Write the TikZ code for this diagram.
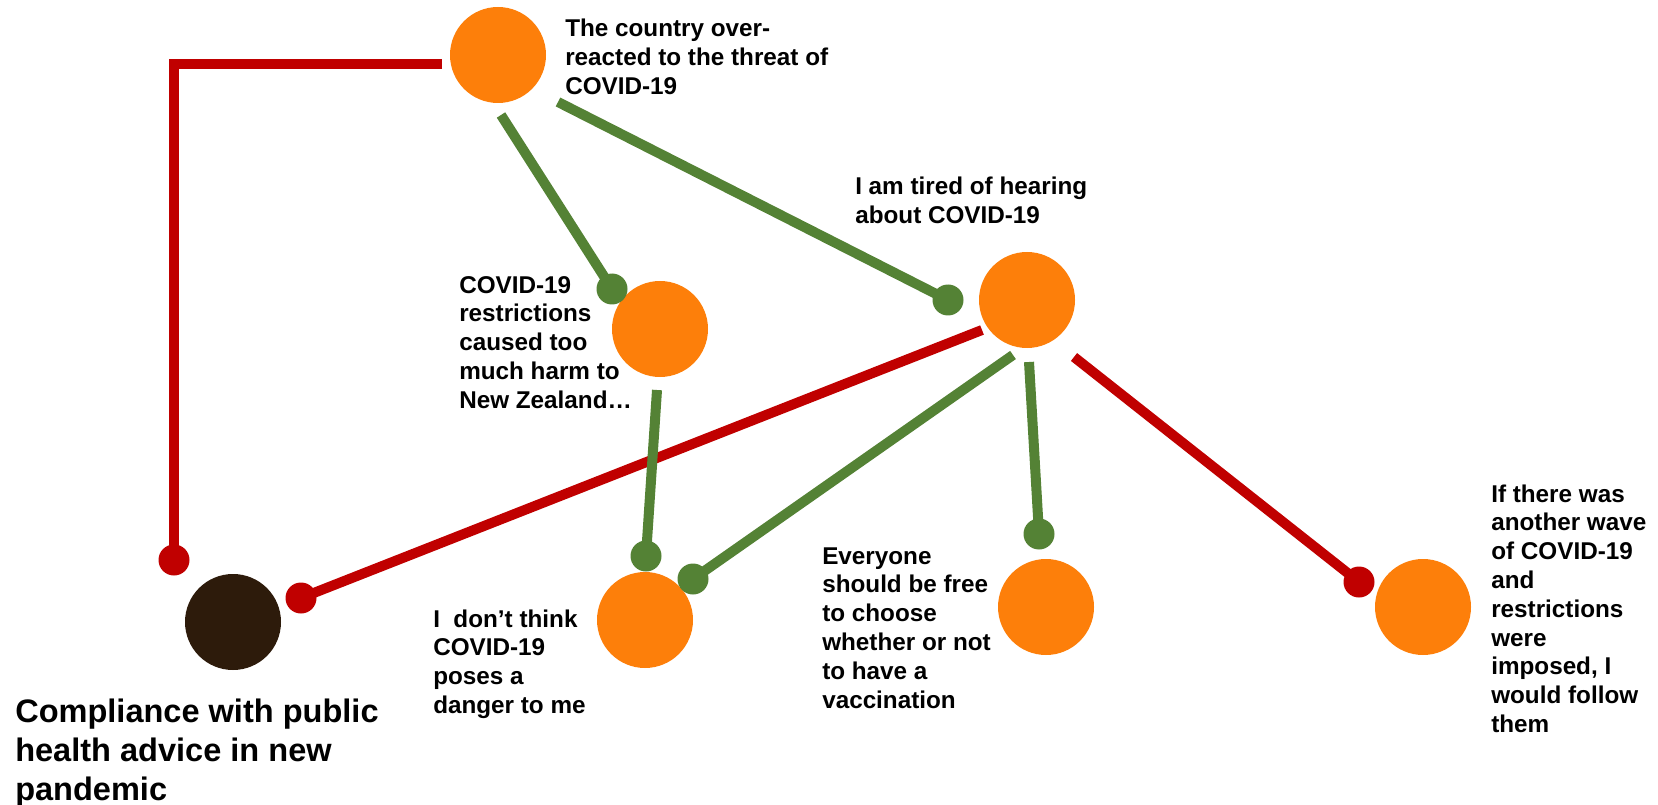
\documentclass[tikz,border=0pt]{standalone}
\usepackage{fontspec}
\setmainfont{Liberation Sans}
\usetikzlibrary{calc}
\definecolor{nodeorange}{RGB}{253,127,10}
\definecolor{linkgreen}{RGB}{84,130,53}
\definecolor{linkred}{RGB}{192,0,0}
\definecolor{darknode}{RGB}{45,27,11}
\begin{document}
\begin{tikzpicture}[x=0.75pt,y=-0.75pt,
  factor/.style={circle,fill=nodeorange,minimum size=72pt,inner sep=0pt},
  outcome/.style={circle,fill=darknode,minimum size=72pt,inner sep=0pt},
  gdot/.style={circle,fill=linkgreen,minimum size=23.25pt,inner sep=0pt},
  rdot/.style={circle,fill=linkred,minimum size=23.25pt,inner sep=0pt},
  glink/.style={draw=linkgreen,line width=7.5pt},
  rlink/.style={draw=linkred,line width=7.5pt},
  lbl/.style={anchor=base west,inner sep=0pt,align=left,
    font=\bfseries\fontsize{18.2pt}{21.6pt}\selectfont},
  ttl/.style={anchor=base west,inner sep=0pt,align=left,
    font=\bfseries\fontsize{24.4pt}{29.25pt}\selectfont}]
\useasboundingbox (0,0) rectangle (1658,805);

% nodes
\node[factor] (A) at (498,55) {};
\node[factor] (B) at (660,329) {};
\node[factor] (C) at (1027,300) {};
\node[factor] (D) at (645,620) {};
\node[factor] (E) at (1046,607) {};
\node[factor] (F) at (1423,607) {};
\node[outcome] (G) at (233,622) {};

% connector end points
\coordinate (a1) at ($(A)+(-56,9)$);
\coordinate (a1c) at (174,64);
\node[rdot] (g1) at ($(G)+(-59,-62)$) {};

\coordinate (c1) at ($(C)+(-45,30)$);
\node[rdot] (g2) at ($(G)+(68,-24)$) {};

\coordinate (a2) at ($(A)+(3,60)$);
\node[gdot] (b1) at ($(B)+(-48,-40)$) {};

\coordinate (a3) at ($(A)+(60,47)$);
\node[gdot] (c2) at ($(C)+(-79,0)$) {};

\coordinate (b2) at ($(B)+(-3,61)$);
\node[gdot] (d1) at ($(D)+(1,-64)$) {};

\coordinate (c3) at ($(C)+(-14,55)$);
\node[gdot] (d2) at ($(D)+(48,-41)$) {};

\coordinate (c4) at ($(C)+(2,62)$);
\node[gdot] (e1) at ($(E)+(-7,-73)$) {};

\coordinate (c5) at ($(C)+(47,57)$);
\node[rdot] (f1) at ($(F)+(-64,-25)$) {};

% connectors
\draw[rlink] (a1) -- (a1c) -- (g1.center);
\draw[rlink] (c1) -- (g2.center);
\draw[glink] (a2) -- (b1.center);
\draw[glink] (a3) -- (c2.center);
\draw[glink] (b2) -- (d1.center);
\draw[glink] (c3) -- (d2.center);
\draw[glink] (c4) -- (e1.center);
\draw[rlink] (c5) -- (f1.center);

% labels (anchored at the baseline of the last line)
\node[lbl] (tA) at (565,94.6) {The country over-\\reacted to the threat of\\COVID-19};
\node[lbl] (tB) at (459,408.2) {COVID-19\\restrictions\\caused too\\much harm to\\New Zealand…};
\node[lbl] (tC) at (855,223.8) {I am tired of hearing\\about COVID-19};
\node[lbl] (tD) at (433,713.4) {I\ \ don’t think\\COVID-19\\poses a\\danger to me};
\node[lbl] (tE) at (822,708) {Everyone\\should be free\\to choose\\whether or not\\to have a\\vaccination};
\node[lbl] (tF) at (1491,732.4) {If there was\\another wave\\of COVID-19\\and\\restrictions\\were\\imposed, I\\would follow\\them};
\node[ttl] (tG) at (15,800) {Compliance with public\\health advice in new\\pandemic};
\end{tikzpicture}
\end{document}
